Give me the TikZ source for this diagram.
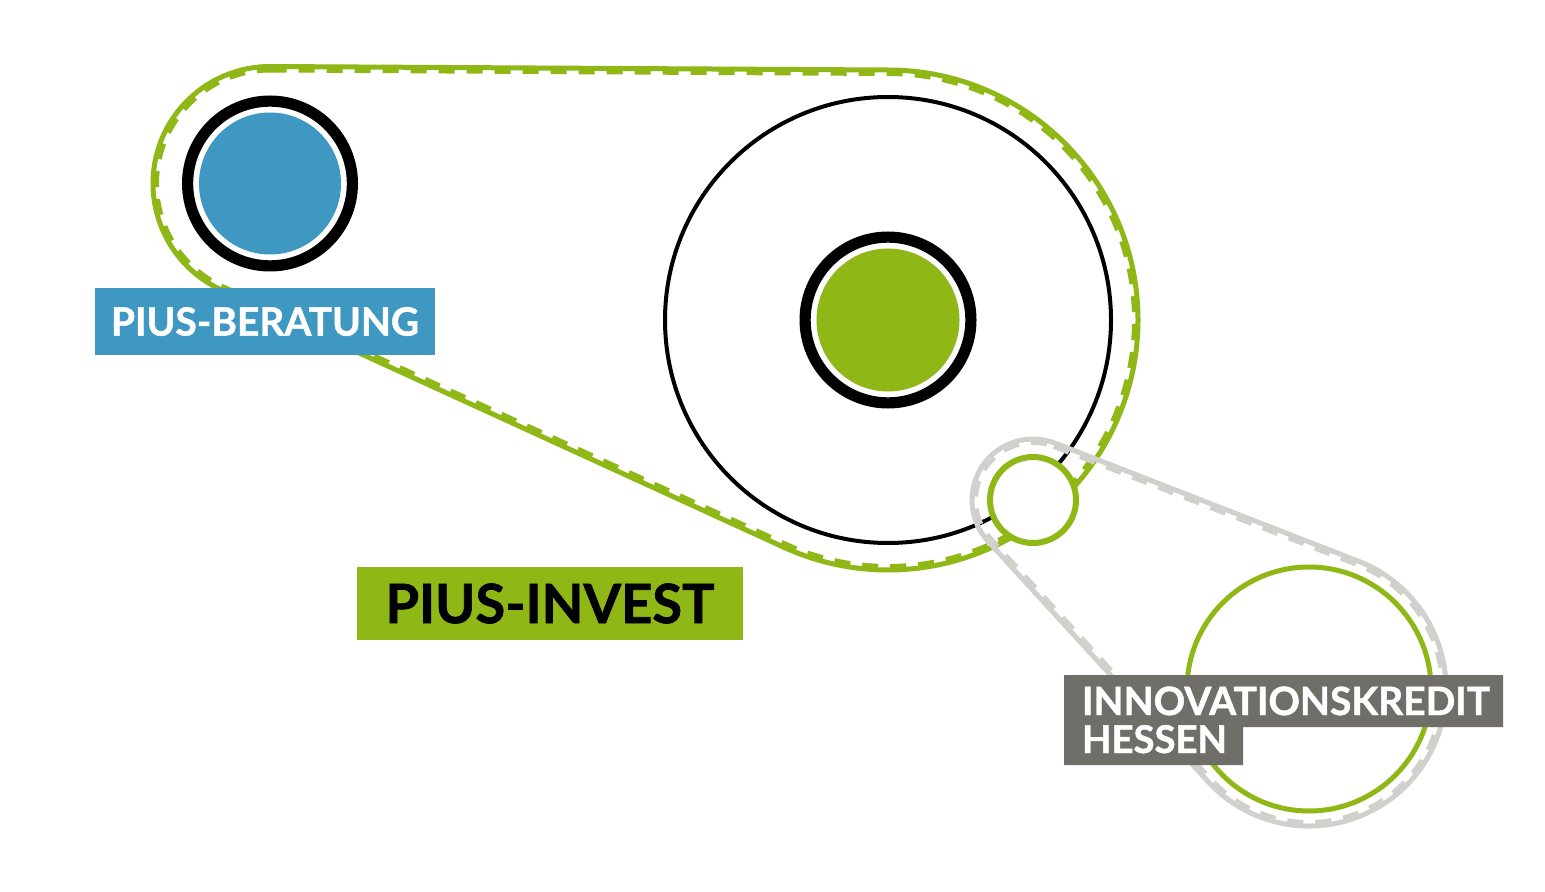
\documentclass[tikz,border=0pt]{standalone}
\usepackage{fontspec}
\setmainfont{Lato}[BoldFeatures={FakeBold=1.2}]
\usetikzlibrary{calc}
\definecolor{pgreen}{RGB}{143,184,22}
\definecolor{pblue}{RGB}{62,152,194}
\definecolor{plabgrey}{RGB}{111,110,105}
\definecolor{pbelt}{RGB}{208,208,204}
\begin{document}
\begin{tikzpicture}[x=0.5pt,y=-0.5pt,
  beltsolid/.style={line width=2.5pt, line join=round},
  beltteeth/.style={line width=2pt, dash pattern=on 8pt off 6pt},
  labelbox/.style={inner sep=0pt, outer sep=0pt}]
\useasboundingbox (0,0) rectangle (1545,892);
\fill[white] (0,0) rectangle (1545,892);
\coordinate (c1) at (270,183.5);
\coordinate (c2) at (888,320);
\coordinate (c3) at (1033,500);
\coordinate (c4) at (1309,689);
% green belt
\draw[pgreen, beltsolid] ($(c1)+(89.68:58.5pt)$) -- ($(c2)+(89.68:125pt)$)
  arc[start angle=89.68, end angle=-114.59, radius=125pt]
  -- ($(c1)+(-114.59:58.5pt)$)
  arc[start angle=245.41, end angle=89.68, radius=58.5pt] -- cycle;
\draw[pgreen, beltteeth] ($(c1)+(89.68:56.5pt)$) -- ($(c2)+(89.68:123pt)$)
  arc[start angle=89.68, end angle=-114.59, radius=123pt]
  -- ($(c1)+(-114.59:56.5pt)$)
  arc[start angle=245.41, end angle=89.68, radius=56.5pt] -- cycle;
% big gear
\draw[black, line width=2pt] (c2) circle[radius=111.5pt];
\draw[black, line width=5.6pt] (c2) circle[radius=41.45pt];
\fill[pgreen] (c2) circle[radius=35.75pt];
% small gear
\draw[black, line width=5.6pt] (c1) circle[radius=41.2pt];
\fill[pblue] (c1) circle[radius=35.5pt];
% grey belt
\draw[pbelt, beltsolid] ($(c3)+(68.73:30.5pt)$) -- ($(c4)+(68.73:68.5pt)$)
  arc[start angle=68.73, end angle=-137.53, radius=68.5pt]
  -- ($(c3)+(-137.53:30.5pt)$)
  arc[start angle=222.47, end angle=68.73, radius=30.5pt] -- cycle;
\draw[pbelt, beltteeth] ($(c3)+(68.73:28.5pt)$) -- ($(c4)+(68.73:66.5pt)$)
  arc[start angle=68.73, end angle=-137.53, radius=66.5pt]
  -- ($(c3)+(-137.53:28.5pt)$)
  arc[start angle=222.47, end angle=68.73, radius=28.5pt] -- cycle;
% idler and lower wheel
\draw[pgreen, line width=3pt, fill=white] (c3) circle[radius=21.5pt];
\draw[pgreen, line width=2.5pt] (c4) circle[radius=61pt];
% labels
\node[labelbox, fill=pblue, minimum width=170pt, minimum height=33.5pt] (beratung) at (265,321.5)
  {\color{white}\resizebox{154pt}{!}{\bfseries PIUS-BERATUNG}};
\node[labelbox, fill=pgreen, minimum width=193pt, minimum height=36.5pt] (invest) at (550,603.5)
  {\color{black}\resizebox{164.5pt}{!}{\bfseries PIUS-INVEST}};
\fill[plabgrey] (1064,675) -- (1503,675) -- (1503,727) -- (1243,727) -- (1243,765) -- (1064,765) -- cycle;
\node[labelbox, anchor=base west, text=white] (innov) at (1082,715)
  {\resizebox{204pt}{!}{\bfseries INNOVATIONSKREDIT}};
\node[labelbox, anchor=base west, text=white] (hessen) at (1082,753)
  {\resizebox{72.5pt}{!}{\bfseries HESSEN}};
\end{tikzpicture}
\end{document}
